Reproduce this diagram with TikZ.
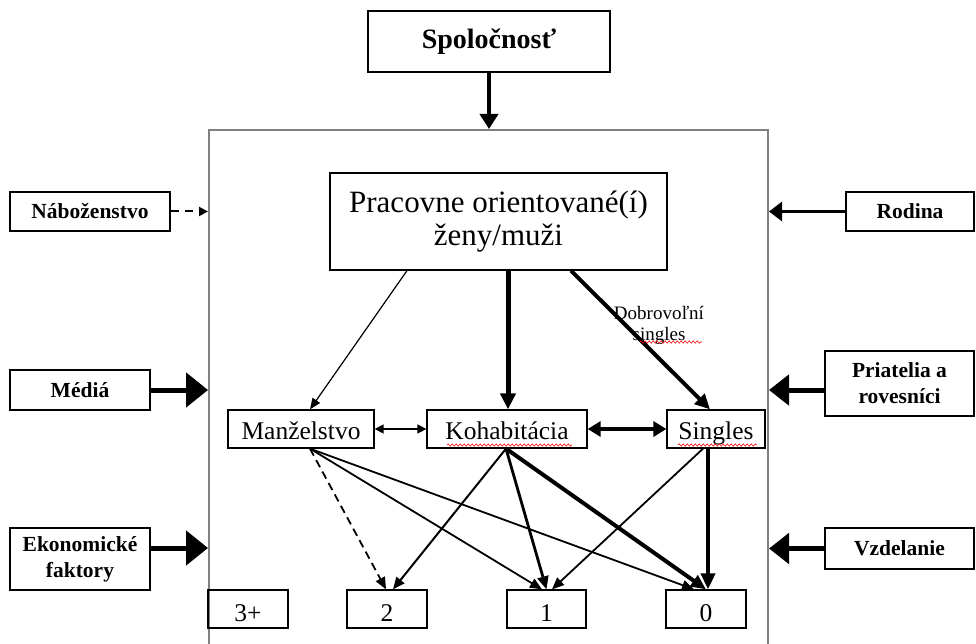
\documentclass[tikz,border=0pt]{standalone}
\usepackage{fontspec}
\setmainfont{Liberation Serif}
\usetikzlibrary{arrows.meta,decorations.pathmorphing}
\newcommand{\fsoc}{\fontsize{28}{32}\selectfont\bfseries}
\newcommand{\fside}{\fontsize{21.5}{26}\selectfont\bfseries}
\newcommand{\fprac}{\fontsize{31}{33}\selectfont}
\newcommand{\fmid}{\fontsize{25.5}{28}\selectfont}
\newcommand{\flab}{\fontsize{19}{21}\selectfont}
\begin{document}
\begin{tikzpicture}[x=1pt,y=-1pt,
  box/.style={draw,line width=1.3pt,inner sep=0pt,align=center},
  sidebox/.style={box,font=\fside},
  midbox/.style={box,font=\fmid,minimum height=38pt,text height=21pt,text depth=0pt},
  numbox/.style={box,font=\fmid,minimum height=38pt,text height=25pt,text depth=0pt},
  sidearr/.style={line width=5pt,-{Triangle[length=22pt,width=34pt]}},
  thinarr/.style={line width=1.8pt,-{Triangle[length=12pt,width=10pt]}},
  wavy/.style={red,line width=0.6pt,decorate,decoration={snake,amplitude=1.1pt,segment length=4pt}}]
\useasboundingbox (0,0) rectangle (976,644);
% frame
\node[draw=black!50,line width=2pt,minimum width=559pt,minimum height=570pt,inner sep=0pt] (frame) at (488.5,415) {};
% nodes
\node[box,font=\fsoc,minimum width=242pt,minimum height=61pt] (soc) at (489,41.5) {Spoločnosť};
\node[box,font=\fprac,minimum width=337pt,minimum height=97pt] (prac) at (498.5,221.5) {Pracovne orientované(í)\\ženy/muži};
\node[midbox,minimum width=146pt] (manz) at (301,429) {Manželstvo};
\node[midbox,minimum width=160pt] (koh) at (507,429) {Kohabitácia};
\node[midbox,minimum width=98pt] (sing) at (716,429) {Singles};
\node[numbox,minimum width=80pt] (n3) at (248,609) {3+};
\node[numbox,minimum width=80pt] (n2) at (387,609) {2};
\node[numbox,minimum width=79pt] (n1) at (546.5,609) {1};
\node[numbox,minimum width=80pt] (n0) at (706,609) {0};
\node[sidebox,minimum width=160pt,minimum height=39pt] (nab) at (90,211.5) {Náboženstvo};
\node[sidebox,minimum width=140pt,minimum height=40pt] (med) at (80,390) {Médiá};
\node[sidebox,minimum width=140pt,minimum height=62pt] (eko) at (80,559) {Ekonomické\\faktory};
\node[sidebox,minimum width=128pt,minimum height=39pt] (rod) at (910,211.5) {Rodina};
\node[sidebox,minimum width=149pt,minimum height=65pt] (pri) at (899.5,383.5) {Priatelia a\\rovesníci};
\node[sidebox,minimum width=149pt,minimum height=41pt] (vzd) at (899.5,548.5) {Vzdelanie};
\node[font=\flab,align=center,inner sep=0pt] (lab) at (659,325) {Dobrovoľní\\singles};
% outer arrows
\draw[line width=4pt,-{Triangle[length=15pt,width=18pt]}] (soc.south) -- (soc.south |- frame.north);
\draw[line width=2pt,dash pattern=on 8pt off 6pt,-{Triangle[length=9pt,width=9pt]}] (nab.east) -- (nab.east -| frame.west);
\draw[sidearr] (med.east) -- (med.east -| frame.west);
\draw[sidearr] ([yshift=11pt]eko.east) -- ([yshift=11pt]eko.east -| frame.west);
\draw[line width=3pt,-{Triangle[length=13pt,width=19pt]}] (rod.west) -- (rod.west -| frame.east);
\draw[line width=5pt,-{Triangle[length=20pt,width=30pt]}] ([yshift=-6.5pt]pri.west) -- ([yshift=-6.5pt]pri.west -| frame.east);
\draw[line width=5pt,-{Triangle[length=20pt,width=30pt]}] (vzd.west) -- (vzd.west -| frame.east);
% from prac
\draw[line width=1.2pt,-{Triangle[length=11pt,width=9pt]}] ([xshift=-91.5pt]prac.south) -- ([xshift=9pt]manz.north);
\draw[line width=5pt,-{Triangle[length=16pt,width=15pt]}] ([xshift=9.5pt]prac.south) -- ([xshift=1pt]koh.north);
\draw[line width=4pt,-{Triangle[length=15pt,width=14pt]}] ([xshift=72.5pt]prac.south) -- ([xshift=-6pt]sing.north);
% horizontal double arrows
\draw[line width=1.5pt,{Triangle[length=9pt,width=9pt]}-{Triangle[length=9pt,width=9pt]}] (manz.east) -- (koh.west);
\draw[line width=3.5pt,{Triangle[length=13pt,width=15pt]}-{Triangle[length=13pt,width=15pt]}] (koh.east) -- (sing.west);
% to numbers
\draw[thinarr,dash pattern=on 8pt off 5pt] ([xshift=9pt]manz.south) -- ([xshift=-1pt]n2.north);
\draw[thinarr] ([xshift=9pt]manz.south) -- ([xshift=-4.5pt]n1.north);
\draw[thinarr] ([xshift=9pt]manz.south) -- ([xshift=-12pt]n0.north);
\draw[line width=2pt,-{Triangle[length=12pt,width=10pt]}] ([xshift=-1pt]koh.south) -- ([xshift=6pt]n2.north);
\draw[line width=2.8pt,-{Triangle[length=13pt,width=11pt]}] ([xshift=-1pt]koh.south) -- (n1.north);
\draw[line width=4pt,-{Triangle[length=15pt,width=13pt]}] ([xshift=-1pt]koh.south) -- (n0.north);
\draw[thinarr] ([xshift=-13pt]sing.south) -- ([xshift=5.5pt]n1.north);
\draw[line width=4pt,-{Triangle[length=16pt,width=14pt]}] ([xshift=-8pt]sing.south) -- ([xshift=2pt]n0.north);
% spell-check underlines
\draw[wavy] (447,445) -- (572,445);
\draw[wavy] (678,445) -- (757,445);
\draw[wavy] (640,342) -- (702,342);
\end{tikzpicture}
\end{document}
